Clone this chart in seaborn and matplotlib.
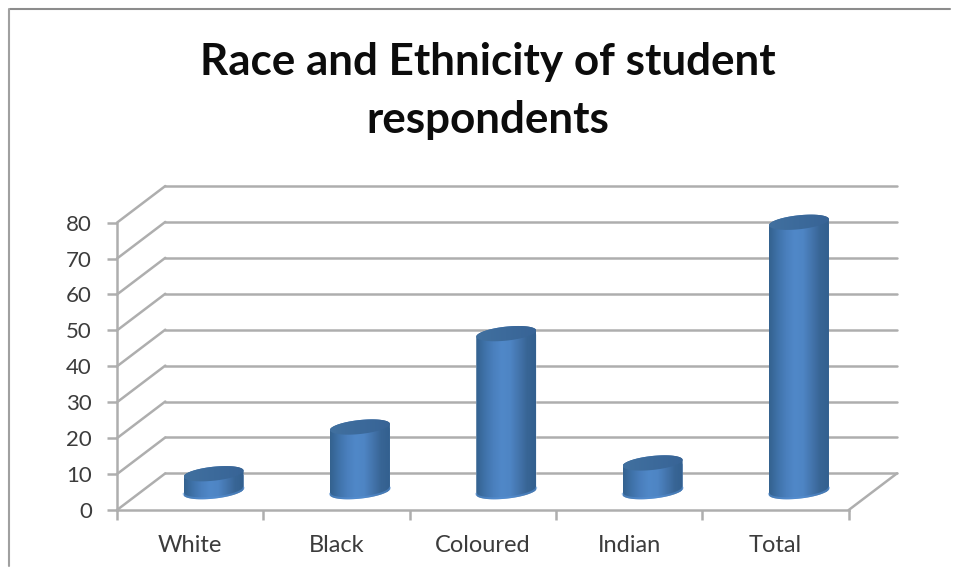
import numpy as np
import matplotlib
matplotlib.use('Agg')
import matplotlib.pyplot as plt
import seaborn as sns
from matplotlib.colors import LinearSegmentedColormap
from matplotlib.lines import Line2D
from matplotlib.patches import Polygon

categories = ['White', 'Black', 'Coloured', 'Indian', 'Total']
respondents = [5, 18, 44, 8, 75]
y_ticks = [0, 10, 20, 30, 40, 50, 60, 70, 80]
title = 'Race and Ethnicity of student\nrespondents'

sns.set_style('white')
plt.rcParams['font.family'] = ['Lato', 'DejaVu Sans']

W, H = 955, 579
fig = plt.figure(figsize=(W / 100, H / 100), dpi=100)
ax = fig.add_axes([117 / W, 1 - 510 / H, (897 - 117) / W, (510 - 186) / H])

# fake 3d depth of the chart box, in data units
depth_x = 0.33
depth_y = 10.2
grid_col = '#aeaeae'
text_col = '#3c3c3c'
grid_lw = 1.8

sns.barplot(x=categories, y=respondents, color='#4a7ebb', width=0.41, gap=0,
            saturation=1, ax=ax, zorder=3)

x0, x1 = -0.5, len(categories) - 0.5

# back wall and side wall lines
for v in y_ticks:
    ax.plot([x0, x0 + depth_x], [v, v + depth_y], color=grid_col, lw=grid_lw, zorder=1, clip_on=False)
    ax.plot([x0 + depth_x, x1 + depth_x], [v + depth_y, v + depth_y], color=grid_col, lw=grid_lw,
            zorder=1, clip_on=False)
ax.plot([x1, x1 + depth_x], [0, depth_y], color=grid_col, lw=grid_lw, zorder=1, clip_on=False)

body_cmap = LinearSegmentedColormap.from_list(
    'cyl', ['#34628f', '#3f72a9', '#4a7fbd', '#5088c8', '#4e85c4', '#4475ad', '#386595', '#33608f'])
top_cmap = LinearSegmentedColormap.from_list('cyl_top', ['#41709f', '#3c6a9b', '#386496'])
t_front = np.linspace(np.pi, 2 * np.pi, 40)
t_all = np.linspace(0, 2 * np.pi, 80)

# turn each flat bar into a cylinder
for bar in ax.patches:
    bar.set_x(bar.get_x() + depth_x / 2 - 0.005)
    bar.set_y(depth_y / 2)
    a = bar.get_width() / 2
    cx = bar.get_x() + a
    base = bar.get_y()
    top = base + bar.get_height()
    b, s = 1.95, 0.85  # ellipse height and tilt

    front_x = cx + a * np.cos(t_front)
    front_y = base + b * np.sin(t_front) + s * np.cos(t_front)
    left_top = top - s
    right_top = top + s
    body = np.column_stack([
        np.r_[cx - a, front_x, cx + a],
        np.r_[left_top, front_y, right_top],
    ])
    # upper edge goes through the far half of the lid
    t_back = np.linspace(0, np.pi, 40)
    lid_back = np.column_stack([cx + a * np.cos(t_back),
                                top + b * np.sin(t_back) + s * np.cos(t_back)])
    body_path = Polygon(np.vstack([body, lid_back]), closed=True, transform=ax.transData)
    bar.set_clip_path(body_path)

    im = ax.imshow(np.linspace(0, 1, 100).reshape(1, -1), cmap=body_cmap, aspect='auto',
                   extent=[cx - a, cx + a, base - 4, top + 4], zorder=4)
    im.set_clip_path(body_path)

    # lighter rim along the bottom of the cylinder
    ax.plot(front_x, front_y + 0.3, color='#5690d4', lw=1.4, alpha=0.55, zorder=5,
            solid_capstyle='round')

    lid = Polygon(np.column_stack([cx + a * np.cos(t_all),
                                   top + b * np.sin(t_all) + s * np.cos(t_all)]),
                  closed=True, transform=ax.transData)
    im2 = ax.imshow(np.linspace(0, 1, 50).reshape(1, -1), cmap=top_cmap, aspect='auto',
                    extent=[cx - a, cx + a, top - 4, top + 4], zorder=6)
    im2.set_clip_path(lid)

ax.set_xlim(x0, x1 + depth_x)
ax.set_ylim(0, 80 + depth_y)

sns.despine(ax=ax, top=True, right=True)
for side in ['left', 'bottom']:
    ax.spines[side].set_color(grid_col)
    ax.spines[side].set_linewidth(grid_lw)
ax.spines['left'].set_bounds(0, 80)
ax.spines['bottom'].set_bounds(x0, x1)

ax.set_yticks(y_ticks)
ax.tick_params(axis='y', length=7, width=grid_lw, color=grid_col, labelsize=16,
               labelcolor=text_col, pad=11, left=True)
ax.set_xticks(range(len(categories)))
ax.set_xticklabels(categories)
ax.tick_params(axis='x', which='major', length=0, labelsize=17, labelcolor=text_col, pad=18)
ax.set_xticks(np.arange(x0, x1 + 0.5), minor=True)
ax.tick_params(axis='x', which='minor', length=7, width=grid_lw, color=grid_col, bottom=True)
ax.patch.set_alpha(0)

fig.text(488 / W, 1 - 91 / H, title, ha='center', va='center', fontsize=31.7, fontweight='bold',
         color='#0c0c0c', linespacing=1.54)

# frame of the pasted chart, only top and left are visible
fig.add_artist(Line2D([10 / W, 950 / W], [1 - 9 / H, 1 - 9 / H], color='#8c8c8c', lw=1.5))
fig.add_artist(Line2D([9 / W, 9 / W], [1 - 9 / H, 1 - 566 / H], color='#a0a0a0', lw=1.5))

fig.savefig('out.png', dpi=100)
